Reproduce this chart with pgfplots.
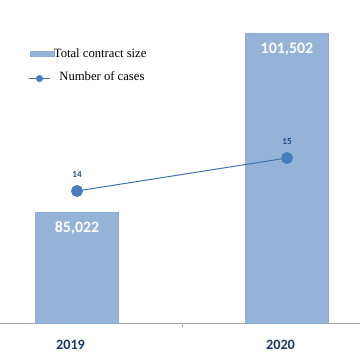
\documentclass[border=0pt]{standalone}
\usepackage{fontspec}
\setmainfont{Carlito}
\newfontfamily\tnr{Liberation Serif}
\usepackage{pgfplots}
\pgfplotsset{compat=1.18}
\definecolor{barfill}{HTML}{95B3D7}
\definecolor{baredge}{HTML}{8EABD2}
\definecolor{linec}{HTML}{3D72AE}
\definecolor{markc}{HTML}{4A7EBB}
\definecolor{lblc}{HTML}{1F4E8C}
\definecolor{tickc}{HTML}{1F3864}
\definecolor{axisc}{HTML}{A6A6A6}
\begin{document}
\begin{tikzpicture}
\useasboundingbox (0,-29bp) rectangle (360bp,323bp);
\begin{axis}[
  at={(0,0)}, anchor=south west,
  scale only axis, width=360bp, height=313bp,
  xmin=-0.3667, xmax=1.3476,
  ymin=74800, ymax=103667,
  axis y line=none,
  axis x line*=bottom,
  x axis line style={draw=axisc, line width=0.8bp, -},
  xtick={0,1}, xticklabels={2019,2020},
  major tick length=0pt,
  extra x ticks={0.5}, extra x tick labels={},
  extra x tick style={major tick length=4bp, tick style={draw=axisc, line width=0.8bp}, tick align=outside},
  xticklabel style={font=\fontsize{14.3}{16}\selectfont\bfseries, text=tickc, anchor=base, yshift=-26bp, xshift=-6.5bp},
  clip=false,
  legend style={at={(28.3bp,275.1bp)}, anchor=north west, draw=none, fill=none, inner sep=0pt,
    font=\tnr\fontsize{12.7}{14}\selectfont, row sep=11.5bp, column sep=0pt,
    nodes={inner sep=0pt, text height=9bp, text depth=3bp}},
  legend cell align=left,
]
\addplot[ybar, bar width=83bp, fill=barfill, draw=baredge,
  nodes near coords, point meta=explicit symbolic,
  every node near coord/.append style={anchor=base, yshift=-20.5bp, text=white,
    font=\fontsize{16}{18}\selectfont\bfseries},
  legend image code/.code={\draw[fill=barfill, draw=baredge] (0bp,-2.5bp) rectangle (23.4bp,2.5bp);}]
  coordinates {(0,85022) [85,022] (1,101502) [101,502]};
\addlegendentry{Total contract size}
\addlegendimage{legend image code/.code={\draw[linec, line width=1bp] (-1.3bp,-1bp)--(19.7bp,-1bp); \fill[markc] (9.2bp,-1bp) circle (3.3bp);}}
\addlegendentry{\hspace*{5.5bp}Number of cases}
\end{axis}
\begin{axis}[
  at={(0,0)}, anchor=south west,
  scale only axis, width=360bp, height=313bp,
  xmin=-0.3667, xmax=1.3476,
  ymin=10, ymax=19.485,
  axis lines=none,
  clip=false,
]
\addplot[color=linec, line width=1bp, mark=*, mark size=5.5bp,
  mark options={fill=markc, draw=markc},
  nodes near coords, point meta=explicit symbolic,
  every node near coord/.append style={anchor=base, yshift=13.5bp, text=lblc,
    font=\fontsize{9.2}{10}\selectfont\bfseries}]
  coordinates {(0,14) [14] (1,15) [15]};
\end{axis}
\end{tikzpicture}
\end{document}
